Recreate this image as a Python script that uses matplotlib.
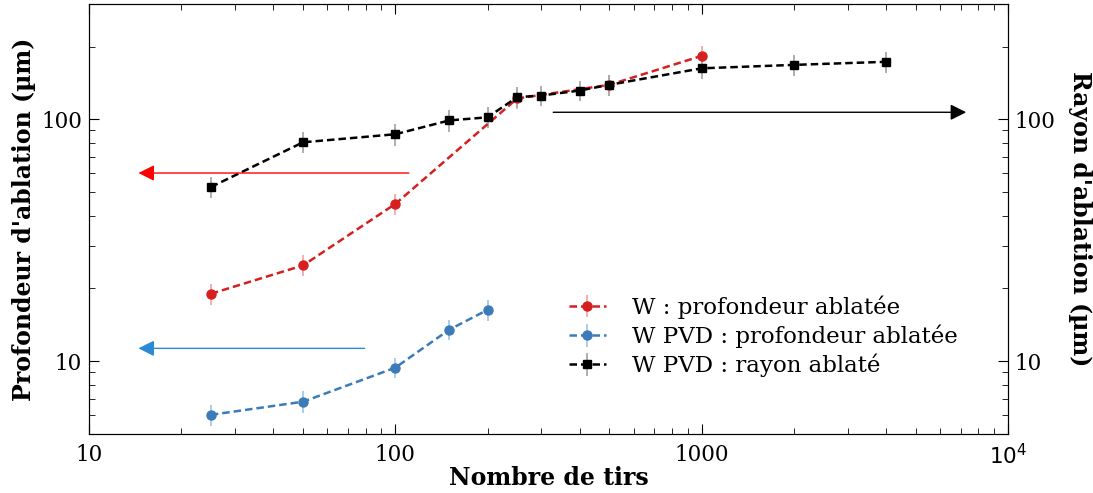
import matplotlib.pyplot as plt
from matplotlib.ticker import FixedLocator, FixedFormatter, NullFormatter

# data (log-log)
tirs_w = [25, 50, 100, 250, 500, 1000]
prof_w = [19.0, 24.9, 44.7, 122, 139, 183]
err_w = [1.9, 2.5, 4.5, 12, 14, 18]

tirs_pvd = [25, 50, 100, 150, 200]
prof_pvd = [6.0, 6.8, 9.4, 13.5, 16.3]
err_pvd = [0.6, 0.7, 0.9, 1.3, 1.6]

tirs_rayon = [25, 50, 100, 150, 200, 250, 300, 400, 500, 1000, 2000, 4000]
rayon_pvd = [52.5, 80.4, 86.8, 99, 102, 123.5, 125.5, 131.6, 139, 162.6, 168, 173]
err_rayon = [5, 8, 9, 10, 10, 12, 12, 13, 14, 16, 17, 17]

labels = ["W : profondeur ablatée",
          "W PVD : profondeur ablatée",
          "W PVD : rayon ablaté"]

x_ticks = [10, 100, 1000, 10000]
x_ticklabels = ["10", "100", "1000", r"$10^4$"]
y_ticks = [10, 100]
y_ticklabels = ["10", "100"]

plt.rcParams["font.family"] = "DejaVu Serif"

fig = plt.figure(figsize=(10.93, 4.93), dpi=100)
ax1 = fig.add_axes([0.0814, 0.1197, 0.8408, 0.8722])

dash = (3, 1.6)
h1 = ax1.errorbar(tirs_w, prof_w, yerr=err_w, fmt="o--", color="#d62020",
                  ecolor="#f2a8a8", elinewidth=1.3, ms=6.5, lw=1.8,
                  dashes=dash, label=labels[0])
h2 = ax1.errorbar(tirs_pvd, prof_pvd, yerr=err_pvd, fmt="o--", color="#3b7bb8",
                  ecolor="#a8c8e4", elinewidth=1.3, ms=6.5, lw=1.8,
                  dashes=dash, label=labels[1])
h3 = ax1.errorbar(tirs_rayon, rayon_pvd, yerr=err_rayon, fmt="s--", color="black",
                  ecolor="#a8a8a8", elinewidth=1.3, ms=5.5, lw=1.8,
                  dashes=dash, label=labels[2])

ax1.set_xscale("log")
ax1.set_yscale("log")
ax1.set_xlim(10, 1e4)
ax1.set_ylim(5, 300)

ax1.xaxis.set_major_locator(FixedLocator(x_ticks))
ax1.xaxis.set_major_formatter(FixedFormatter(x_ticklabels))
ax1.xaxis.set_minor_formatter(NullFormatter())
ax1.yaxis.set_major_locator(FixedLocator(y_ticks))
ax1.yaxis.set_major_formatter(FixedFormatter(y_ticklabels))
ax1.yaxis.set_minor_formatter(NullFormatter())
ax1.tick_params(which="both", direction="in", top=True, right=False, labelsize=15.5)
ax1.tick_params(which="major", length=7)
ax1.tick_params(which="minor", length=4)
ax1.tick_params(axis="x", pad=7)
ax1.tick_params(axis="y", pad=5)

ax1.set_xlabel("Nombre de tirs", fontsize=17, fontweight="bold", labelpad=-2)
ax1.set_ylabel("Profondeur d'ablation (µm)", fontsize=17, fontweight="bold",
               labelpad=4)

ax2 = ax1.twinx()
ax2.set_yscale("log")
ax2.set_ylim(5, 300)
ax2.yaxis.set_major_locator(FixedLocator(y_ticks))
ax2.yaxis.set_major_formatter(FixedFormatter(y_ticklabels))
ax2.yaxis.set_minor_formatter(NullFormatter())
ax2.tick_params(which="both", direction="in", labelsize=15.5, pad=5)
ax2.tick_params(which="major", length=7)
ax2.tick_params(which="minor", length=4)
ax2.set_ylabel("Rayon d'ablation (µm)", fontsize=17, fontweight="bold",
               rotation=270, labelpad=26)

# arrows pointing at the corresponding axes
ax1.annotate("", xy=(14.2, 60), xytext=(113, 60),
             arrowprops=dict(arrowstyle="-|>", color="red", lw=1, mutation_scale=24))
ax1.annotate("", xy=(14.2, 11.3), xytext=(81, 11.3),
             arrowprops=dict(arrowstyle="-|>", color="#2a8ad6", lw=1, mutation_scale=24))
ax1.annotate("", xy=(7460, 107), xytext=(321, 107),
             arrowprops=dict(arrowstyle="-|>", color="black", lw=1, mutation_scale=24))

ax1.legend(handles=[h1, h2, h3], loc="upper left", bbox_to_anchor=(0.5, 0.37),
           frameon=False, fontsize=16.5, handlelength=1.6, handletextpad=1.15,
           labelspacing=0.25)

fig.savefig("out.png", dpi=100)
